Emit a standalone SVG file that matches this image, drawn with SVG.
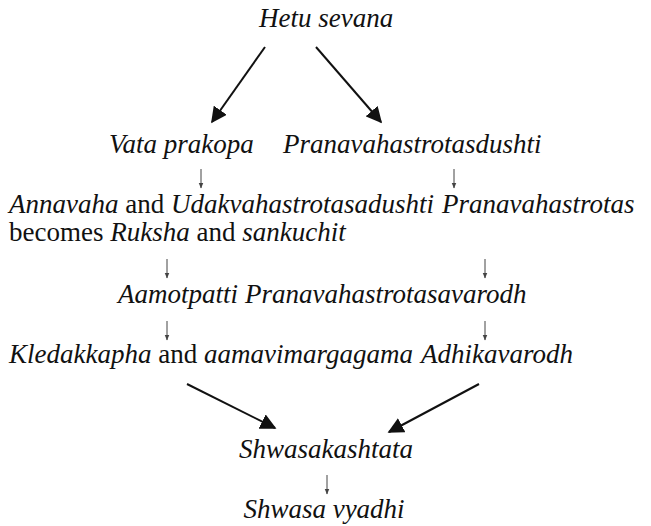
<svg xmlns="http://www.w3.org/2000/svg" width="651" height="526" viewBox="0 0 651 526">
<style>
.big{stroke:#111;stroke-width:2;fill:none}
.sm{stroke:#444;stroke-width:1;fill:none}
</style>
<defs>
<marker id="ahb" viewBox="0 0 10 10" refX="9" refY="5" markerWidth="8" markerHeight="8" orient="auto"><path d="M0,0 L10,5 L0,10 z" fill="#111"/></marker>
<marker id="ahs" viewBox="0 0 10 10" refX="9" refY="5" markerWidth="6" markerHeight="6" markerUnits="userSpaceOnUse" orient="auto"><path d="M0,1 L10,5 L0,9 z" fill="#444"/></marker>
</defs>
<g id="connectors">
<line class="big" x1="265" y1="47" x2="212" y2="122" marker-end="url(#ahb)"/>
<line class="big" x1="316" y1="47" x2="381" y2="122" marker-end="url(#ahb)"/>
<line class="big" x1="187" y1="384" x2="275" y2="428" marker-end="url(#ahb)"/>
<line class="big" x1="479" y1="384" x2="389" y2="432" marker-end="url(#ahb)"/>
<line class="sm" x1="201" y1="169" x2="201" y2="188" marker-end="url(#ahs)"/>
<line class="sm" x1="454" y1="169" x2="454" y2="188" marker-end="url(#ahs)"/>
<line class="sm" x1="167" y1="259" x2="167" y2="278" marker-end="url(#ahs)"/>
<line class="sm" x1="485" y1="259" x2="485" y2="278" marker-end="url(#ahs)"/>
<line class="sm" x1="167" y1="321" x2="167" y2="340" marker-end="url(#ahs)"/>
<line class="sm" x1="485" y1="321" x2="485" y2="340" marker-end="url(#ahs)"/>
<line class="sm" x1="327" y1="475" x2="327" y2="494" marker-end="url(#ahs)"/>
</g>
<g id="hetu"><text font-family="Liberation Serif" font-size="27" fill="#111" font-style="italic" x="259" y="27">Hetu sevana</text></g>
<g id="vata"><text font-family="Liberation Serif" font-size="27" fill="#111" font-style="italic" x="109" y="153">Vata prakopa</text></g>
<g id="pranadushti"><text font-family="Liberation Serif" font-size="27" fill="#111" font-style="italic" x="283" y="153">Pranavahastrotasdushti</text></g>
<g id="annavaha"><text font-family="Liberation Serif" font-size="27" fill="#111" x="9" y="213"><tspan font-style="italic">Annavaha</tspan> and <tspan font-style="italic">Udakvahastrotasadushti</tspan></text></g>
<g id="ruksha">
<text font-family="Liberation Serif" font-size="27" fill="#111" font-style="italic" x="442" y="213">Pranavahastrotas</text>
<text font-family="Liberation Serif" font-size="27" fill="#111" x="9" y="241">becomes <tspan font-style="italic">Ruksha</tspan> and <tspan font-style="italic">sankuchit</tspan></text>
</g>
<g id="aamotpatti"><text font-family="Liberation Serif" font-size="27" fill="#111" font-style="italic" x="118" y="303">Aamotpatti</text></g>
<g id="avarodh"><text font-family="Liberation Serif" font-size="27" fill="#111" font-style="italic" x="245" y="303">Pranavahastrotasavarodh</text></g>
<g id="kledak"><text font-family="Liberation Serif" font-size="27" fill="#111" x="9" y="363"><tspan font-style="italic">Kledakkapha</tspan> and <tspan font-style="italic">aamavimargagama</tspan></text></g>
<g id="adhika"><text font-family="Liberation Serif" font-size="27" fill="#111" font-style="italic" x="421" y="363">Adhikavarodh</text></g>
<g id="shwasakashtata"><text font-family="Liberation Serif" font-size="27" fill="#111" font-style="italic" x="326" y="458" text-anchor="middle">Shwasakashtata</text></g>
<g id="vyadhi"><text font-family="Liberation Serif" font-size="27" fill="#111" font-style="italic" x="324" y="518" text-anchor="middle">Shwasa vyadhi</text></g>
</svg>
